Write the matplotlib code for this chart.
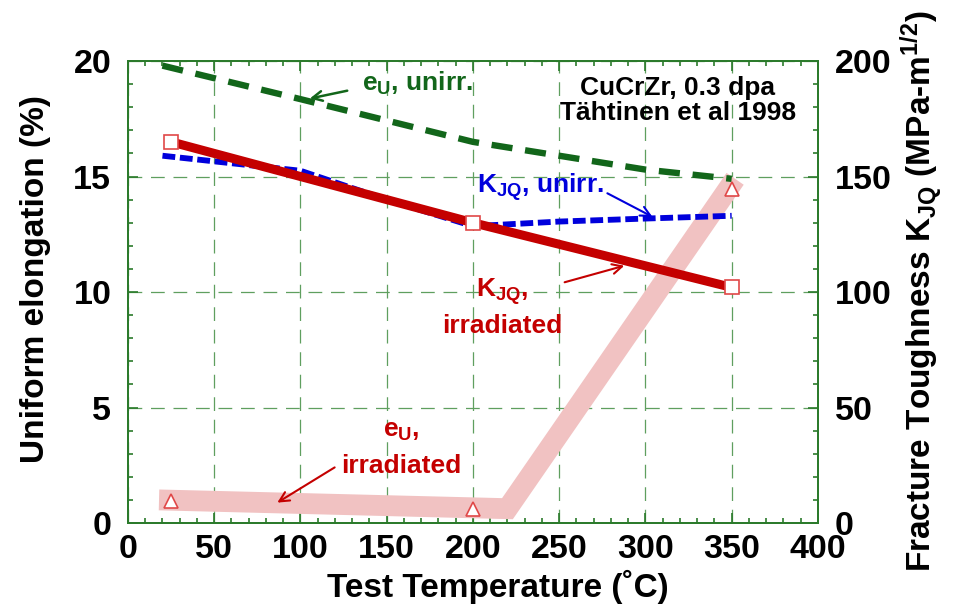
# ==========================================
# CuCrZr - alongamento uniforme e tenacidade
# ==========================================

import matplotlib
matplotlib.use("Agg")

import matplotlib.pyplot as plt
from matplotlib.ticker import MultipleLocator


# ==========================================
# DADOS
# ==========================================

# e_U nao irradiado (%)
temp_eu_unirr = [20, 100, 200, 300, 350]
eu_unirr = [19.8, 18.35, 16.5, 15.3, 14.9]

# e_U irradiado (%) - faixa larga
temp_eu_irr_faixa = [18, 220, 352]
eu_irr_faixa = [1.0, 0.62, 14.9]

# e_U irradiado (%) - pontos medidos
temp_eu_irr = [25, 200, 350]
eu_irr = [0.95, 0.6, 14.45]

# K_JQ nao irradiado (MPa-m^1/2)
temp_kjq_unirr = [20, 100, 150, 200, 250, 300, 350]
kjq_unirr = [159, 152.5, 140, 128.5, 130.5, 131.8, 133]

# K_JQ irradiado (MPa-m^1/2)
temp_kjq_irr = [25, 200, 350]
kjq_irr = [165, 130, 102]

x_ticks = [0, 50, 100, 150, 200, 250, 300, 350, 400]
y_ticks_esq = [0, 5, 10, 15, 20]
y_ticks_dir = [0, 50, 100, 150, 200]


# ==========================================
# CORES
# ==========================================

verde_eixo = "#2b7a2b"
verde_grade = "#5f9f5f"
verde_linha = "#12661a"
azul = "#0000dc"
vermelho = "#c40000"
vermelho_marca = "#e04848"
rosa = "#f1c2c2"


# ==========================================
# FONTES
# ==========================================

plt.rcParams["font.family"] = ["Liberation Sans", "DejaVu Sans"]
plt.rcParams["font.weight"] = "bold"
plt.rcParams["mathtext.fontset"] = "custom"
plt.rcParams["mathtext.rm"] = "Liberation Sans:bold"
plt.rcParams["mathtext.it"] = "Liberation Sans:bold"
plt.rcParams["mathtext.bf"] = "Liberation Sans:bold"
plt.rcParams["mathtext.default"] = "rm"

tam_ticks = 24.5
tam_rotulo = 24
tam_nota = 19


# ==========================================
# FIGURA
# ==========================================

fig = plt.figure(figsize=(9.6, 6.09), dpi=100)

ax = fig.add_axes([0.1333, 0.1412, 0.7187, 0.7586])
ax2 = ax.twinx()

ax.set_xlim(0, 400)
ax.set_ylim(0, 20)
ax2.set_ylim(0, 200)

# grade tracejada
ax.set_axisbelow(True)
ax.grid(True, color=verde_grade, linestyle=(0, (11, 7)), linewidth=0.9)


# ==========================================
# CURVAS
# ==========================================

# faixa rosa: e_U irradiado
ax.plot(
    temp_eu_irr_faixa,
    eu_irr_faixa,
    color=rosa,
    linewidth=15,
    solid_capstyle="butt",
    solid_joinstyle="miter",
    zorder=1
)

# e_U nao irradiado
ax.plot(
    temp_eu_unirr,
    eu_unirr,
    color=verde_linha,
    linewidth=4.6,
    dashes=(3.3, 2.0),
    zorder=2
)

ax.plot(
    temp_eu_irr,
    eu_irr,
    linestyle="none",
    marker="^",
    markersize=9.5,
    markerfacecolor="white",
    markeredgecolor=vermelho_marca,
    markeredgewidth=1.2,
    zorder=5
)

# K_JQ nao irradiado
ax2.plot(
    temp_kjq_unirr,
    kjq_unirr,
    color=azul,
    linewidth=4.2,
    dashes=(2.2, 0.8),
    zorder=3
)

# K_JQ irradiado
ax2.plot(
    temp_kjq_irr,
    kjq_irr,
    color=vermelho,
    linewidth=6.5,
    marker="s",
    markersize=9.5,
    markerfacecolor="white",
    markeredgecolor=vermelho_marca,
    markeredgewidth=1.2,
    zorder=4
)


# ==========================================
# EIXOS
# ==========================================

ax.set_xticks(x_ticks)
ax.set_yticks(y_ticks_esq)
ax2.set_yticks(y_ticks_dir)

ax.xaxis.set_minor_locator(MultipleLocator(10))
ax.yaxis.set_minor_locator(MultipleLocator(1))
ax2.yaxis.set_minor_locator(MultipleLocator(10))

for eixo in (ax, ax2):
    for lado in eixo.spines.values():
        lado.set_color(verde_eixo)
        lado.set_linewidth(1.3)

ax.tick_params(
    which="both", direction="in", top=True, right=False,
    color=verde_eixo, width=1.2, labelsize=tam_ticks
)
ax.tick_params(which="major", length=7.5)
ax.tick_params(which="minor", length=3.8)
ax.tick_params(axis="x", pad=8)
ax.tick_params(axis="y", pad=12)

ax2.tick_params(
    which="both", direction="in",
    color=verde_eixo, width=1.2, labelsize=tam_ticks, pad=12
)
ax2.tick_params(which="major", length=7.5)
ax2.tick_params(which="minor", length=3.8)


# ==========================================
# TEXTOS DOS EIXOS
# ==========================================

fig.text(
    498 / 960, 1 - 597 / 609,
    "Test Temperature (˚C)",
    fontsize=tam_rotulo, ha="center", va="baseline"
)

fig.text(
    36 / 960, 1 - 279 / 609,
    "Uniform elongation (%)",
    fontsize=tam_rotulo, rotation=90, ha="center", va="center"
)

fig.text(
    922 / 960, 1 - 291 / 609,
    "Fracture Toughness K$_{JQ}$ (MPa-m$^{1/2}$)",
    fontsize=tam_rotulo, rotation=90, ha="center", va="center"
)


# ==========================================
# ANOTACOES
# ==========================================

ax.text(318.8, 18.53, "CuCrZr, 0.3 dpa",
        fontsize=tam_nota, ha="center", va="baseline")
ax.text(318.8, 17.45, "Tähtinen et al 1998",
        fontsize=tam_nota, ha="center", va="baseline")

seta = "->,head_length=0.7,head_width=0.35"

# e_U nao irradiado
ax.text(135.7, 18.70, "e$_{U}$, unirr.",
        color=verde_linha, fontsize=tam_nota, ha="left", va="baseline")
ax.annotate(
    "", xy=(103.8, 18.35), xytext=(128.7, 18.74),
    arrowprops=dict(arrowstyle=seta, color=verde_linha, lw=1.8)
)

# K_JQ nao irradiado
ax.text(202.3, 14.29, "K$_{JQ}$, unirr.",
        color=azul, fontsize=tam_nota, ha="left", va="baseline")
ax.annotate(
    "", xy=(305.5, 13.20), xytext=(276.5, 14.33),
    arrowprops=dict(arrowstyle=seta, color=azul, lw=1.5)
)

# K_JQ irradiado
ax.text(216.8, 9.78, "K$_{JQ}$,",
        color=vermelho, fontsize=tam_nota, ha="center", va="baseline")
ax.text(216.8, 8.23, "irradiated",
        color=vermelho, fontsize=tam_nota, ha="center", va="baseline")
ax.annotate(
    "", xy=(289.3, 11.17), xytext=(251.6, 10.39),
    arrowprops=dict(arrowstyle=seta, color=vermelho, lw=1.5)
)

# e_U irradiado
ax.text(158.3, 3.72, "e$_{U}$,",
        color=vermelho, fontsize=tam_nota, ha="center", va="baseline")
ax.text(158.3, 2.16, "irradiated",
        color=vermelho, fontsize=tam_nota, ha="center", va="baseline")
ax.annotate(
    "", xy=(85.2, 0.82), xytext=(121.2, 2.47),
    arrowprops=dict(arrowstyle=seta, color=vermelho, lw=1.5)
)


# ==========================================
# SALVAR
# ==========================================

fig.savefig("out.png", dpi=100)
